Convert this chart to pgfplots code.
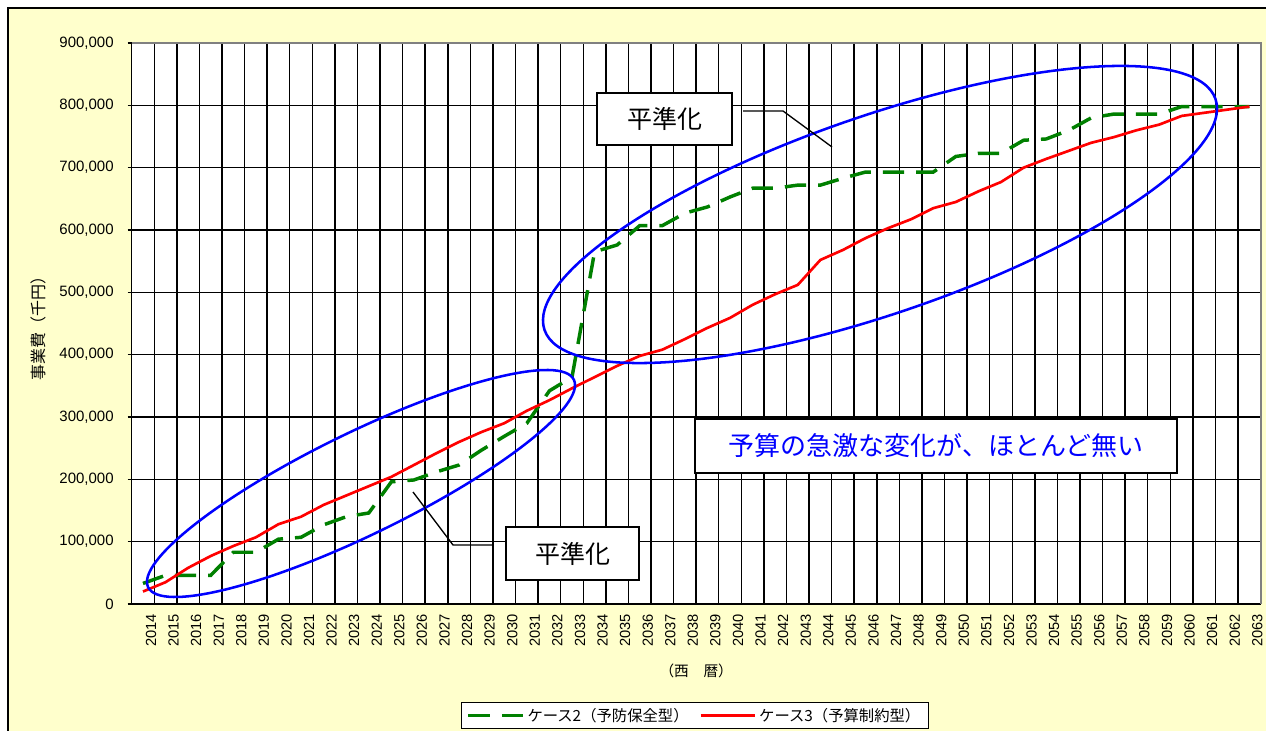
\documentclass[border=0pt]{standalone}
\usepackage{fontspec}
\setmainfont{Liberation Sans}
\newfontfamily\jp{Noto Sans CJK JP}
\usepackage{pgfplots}
\usepackage{pgfplotstable}
\pgfplotsset{compat=1.18}

\definecolor{bgyellow}{RGB}{255,255,204}
\definecolor{serGreen}{RGB}{0,128,0}
\definecolor{serRed}{RGB}{255,0,0}
\definecolor{ringBlue}{RGB}{0,0,255}
\definecolor{frameGray}{RGB}{128,128,128}

% 事業費（千円）: ケース2 = 予防保全型, ケース3 = 予算制約型
\pgfplotstableread{
year  c2      c3
2014  33000   20000
2015  46000   35000
2016  46000   58000
2017  46000   77000
2018  83000   93000
2019  83000   107000
2020  104000  128000
2021  107000  140000
2022  127000  159000
2023  140000  174000
2024  146000  189000
2025  196000  204000
2026  199000  223000
2027  212000  242000
2028  223000  260000
2029  247000  276000
2030  269000  290000
2031  290000  310000
2032  342000  327000
2033  364000  346000
2034  565000  364000
2035  576000  382000
2036  607000  398000
2037  607000  408000
2038  627000  425000
2039  637000  443000
2040  653000  459000
2041  667000  480000
2042  667000  497000
2043  672000  512000
2044  672000  552000
2045  683000  568000
2046  693000  587000
2047  693000  603000
2048  693000  617000
2049  693000  635000
2050  718000  645000
2051  723000  662000
2052  723000  677000
2053  744000  700000
2054  746000  714000
2055  760000  727000
2056  780000  740000
2057  786000  749000
2058  786000  760000
2059  786000  769000
2060  798000  783000
2061  798000  788000
2062  798000  793000
2063  798000  798000
}\budget

\begin{document}
\begin{tikzpicture}
\path[use as bounding box] (0,0) rectangle (949.5pt,548.25pt);
\fill[white] (0,0) rectangle (949.5pt,548.25pt);
\fill[bgyellow] (6pt,-5pt) rectangle (955pt,542.25pt);
\draw[black, line width=1.3pt] (6pt,-5pt) -- (6pt,542.25pt) -- (955pt,542.25pt);

\begin{axis}[
  at={(98.775pt,95.25pt)}, anchor=south west,
  scale only axis, width=846.75pt, height=420.75pt,
  xmin=2013.5, xmax=2063.5, ymin=0, ymax=900000,
  axis background/.style={fill=white},
  axis line style={black, line width=1pt},
  xtick={2014,...,2063},
  minor xtick={2013.5,2014.5,...,2063.5},
  ytick={0,100000,...,900000},
  scaled y ticks=false,
  xmajorgrids=false, xminorgrids=true, ymajorgrids=true,
  grid style={black, line width=1.1pt},
  minor grid style={black, line width=1.1pt},
  tick align=outside,
  x tick style={draw=none},
  minor x tick style={draw=none},
  y tick style={black, line width=1pt},
  major tick length=3pt,
  ytick pos=left,
  x tick label style={/pgf/number format/1000 sep={}, rotate=90, anchor=east,
    font=\fontsize{11}{12}\selectfont, yshift=-6pt, xshift=-1pt},
  y tick label style={/pgf/number format/.cd, fixed, 1000 sep={,},
    /tikz/.cd, font=\fontsize{11.25}{12}\selectfont, xshift=-7pt},
  /pgf/number format/assume math mode=true,
  xlabel={\jp （西　暦）},
  xlabel style={at={(axis description cs:0.5,-0.1194)}, anchor=center,
    font=\fontsize{11}{12}\selectfont},
  ylabel={\jp 事業費（千円）},
  ylabel style={at={(axis description cs:-0.0825,0.499)}, anchor=center,
    font=\fontsize{12}{13}\selectfont},
  legend columns=2,
  legend style={at={(axis description cs:0.4988,-0.1988)}, anchor=center,
    draw=black, line width=0.8pt, fill=white,
    font=\jp\fontsize{11.5}{13}\selectfont,
    inner xsep=4pt, inner ysep=2pt,
    /tikz/every even column/.append style={column sep=6pt}},
  legend image code/.code={\draw[#1, line cap=butt] (0pt,0pt) -- (41pt,0pt);},
]
\addplot[serGreen, line width=2.6pt, dash pattern=on 16pt off 9pt, line cap=butt]
  table[x=year, y=c2] {\budget};
\addlegendentry{ケース2（予防保全型）}
\addplot[serRed, line width=2pt, line join=round]
  table[x=year, y=c3] {\budget};
\addlegendentry{ケース3（予算制約型）}
\end{axis}

\begin{scope}[x=0.75pt, y=0.75pt]
  % grey frame on the top and right of the plot area
  \draw[frameGray, line width=0.9pt] (131.7,688) -- (1261,688) -- (1261,127);
  % rings around the two smoothed periods
  \draw[ringBlue, line width=1.9pt, rotate around={26:(361,247.5)}]
    (361,247.5) ellipse [x radius=236.8, y radius=51];
  \draw[ringBlue, line width=1.9pt, rotate around={19:(880,516.5)}]
    (880,516.5) ellipse [x radius=354.8, y radius=98.8];
  % callouts
  \draw[black, line width=1pt] (743,620) -- (783,620) -- (832,584);
  \draw[black, line width=1pt] (413,239) -- (453,186) -- (493,186);
  \node[draw=black, fill=white, line width=1.2pt, inner sep=0pt,
        minimum width=101.25pt, minimum height=39pt,
        font=\jp\fontsize{18.75}{20}\selectfont] at (664.5,612) {平準化};
  \node[draw=black, fill=white, line width=1.2pt, inner sep=0pt,
        minimum width=99.75pt, minimum height=39.75pt,
        font=\jp\fontsize{18.75}{20}\selectfont] at (572.5,177.5) {平準化};
  \node[draw=black, fill=white, line width=1.5pt, inner sep=0pt,
        minimum width=361.5pt, minimum height=40.5pt, text=ringBlue,
        font=\jp\fontsize{19.5}{21}\selectfont] at (936,285)
        {予算の急激な変化が、ほとんど無い};
\end{scope}
\end{tikzpicture}
\end{document}
